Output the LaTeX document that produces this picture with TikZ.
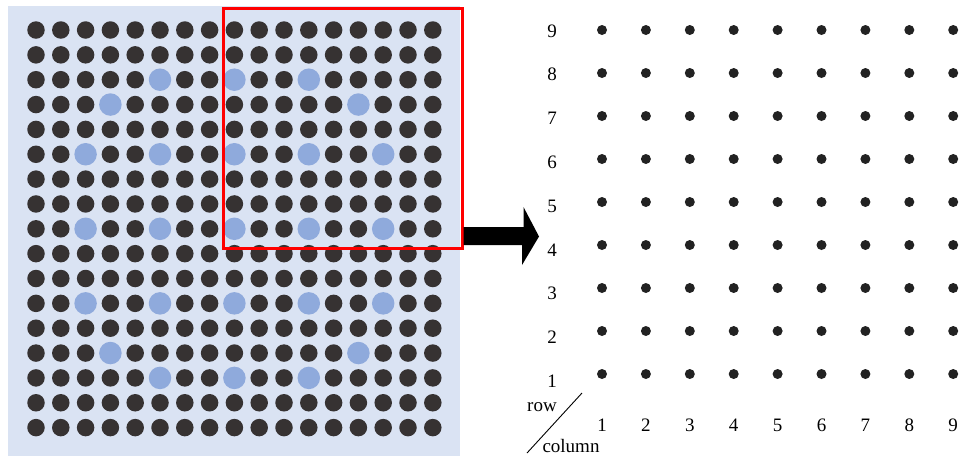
\documentclass[tikz,border=0pt]{standalone}
\usepackage{fontspec}
\setmainfont{Liberation Serif}
\definecolor{bgblue}{HTML}{DAE3F3}
\definecolor{dotdark}{HTML}{363232}
\definecolor{dotblue}{HTML}{8FAADC}
\definecolor{ptdot}{HTML}{222222}
\begin{document}
\begin{tikzpicture}[x=1pt,y=-1pt,
  darkdot/.style={circle,fill=dotdark,inner sep=0pt,minimum size=17.5pt},
  bluedot/.style={circle,fill=dotblue,inner sep=0pt,minimum size=22.5pt},
  smalldot/.style={circle,fill=ptdot,inner sep=0pt,minimum size=10pt},
  lbl/.style={font=\fontsize{19}{19}\selectfont,inner sep=0pt},
  zoombox/.style={draw=red,line width=2.5pt,inner sep=0pt,anchor=north west,minimum width=239pt,minimum height=240pt}]
\useasboundingbox (0,0) rectangle (968,459);
% left panel background
\fill[bgblue] (8,6) rectangle (460,456);
% dark dots
\foreach \r in {1,...,17}{
  \foreach \c in {1,...,17}{
    \node[darkdot] (d-\r-\c) at ({36+(\c-1)*24.8},{30+(\r-1)*24.85}) {};
  }
}
% blue dots
\foreach \r/\c in {3/6,3/9,3/12,4/4,4/14,6/3,6/6,6/9,6/12,6/15,9/3,9/6,9/9,9/12,9/15,12/3,12/6,12/9,12/12,12/15,14/4,14/14,15/6,15/9,15/12}{
  \node[bluedot] (b-\r-\c) at ({36+(\c-1)*24.8},{30+(\r-1)*24.85}) {};
}
% red zoom box
\node[zoombox] (zoom) at (222,7) {};
% block arrow
\coordinate (as) at (zoom.east |- 0,236);
\fill[black] (as) ++(0,-9) -- ++(60,0) -- ++(0,-20) -- (539,236.5) -- (522,265) -- (522,245) -- (as |- 0,245) -- cycle;
% right panel dots
\foreach \c in {1,...,9}{
  \foreach \r in {1,...,9}{
    \node[smalldot] (p-\c-\r) at ({602+(\c-1)*43.9},{374-(\r-1)*43}) {};
  }
}
% row labels
\foreach \k in {1,...,9}{
  \node[lbl] (rl-\k) at (552,{381-(\k-1)*43.75}) {\k};
}
% column labels
\foreach \k in {1,...,9}{
  \node[lbl] (cl-\k) at ({602+(\k-1)*43.9},425) {\k};
}
\node[lbl] (rowlbl) at (542,407) {row};
\node[lbl] (collbl) at (571,446) {column};
\coordinate (dA) at (527,453);
\coordinate (dB) at (582,393);
\draw[line width=0.9pt] (dA) -- (dB);
\end{tikzpicture}
\end{document}
